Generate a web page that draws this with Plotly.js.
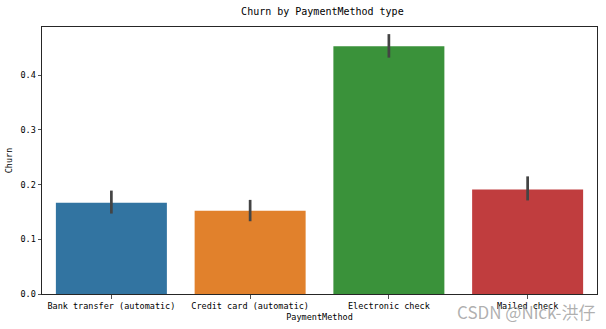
<!DOCTYPE html>
<html><head><meta charset="utf-8">
<script src="https://cdn.plot.ly/plotly-3.0.1.min.js"></script>
<style>html,body{margin:0;padding:0;background:#fff;}</style>
</head><body><div id="chart" style="width:606px;height:329px;"></div>
<script>
const categories = ["Bank transfer (automatic)", "Credit card (automatic)", "Electronic check", "Mailed check"];
const churnRate = [0.167, 0.152, 0.453, 0.191];
const ciUpper = [0.189, 0.172, 0.475, 0.215];
const ciLower = [0.147, 0.133, 0.432, 0.171];
const colors = ["#3274a1", "#e1812c", "#3a923a", "#c03d3e"];
const yTicks = [0, 0.1, 0.2, 0.3, 0.4];
const yTickText = ["0.0", "0.1", "0.2", "0.3", "0.4"];

const font = "'DejaVu Sans Mono', 'Liberation Mono', monospace";
const trace = {
  type: "bar",
  x: categories,
  y: churnRate,
  width: 0.8,
  marker: {color: colors, line: {width: 0}},
  error_y: {
    type: "data",
    symmetric: false,
    array: ciUpper.map((u, i) => u - churnRate[i]),
    arrayminus: churnRate.map((v, i) => v - ciLower[i]),
    color: "#444444",
    thickness: 2.7,
    width: 0
  },
  hoverinfo: "none"
};
const layout = {
  width: 606, height: 329,
  margin: {l: 42, r: 9, t: 27, b: 35},
  paper_bgcolor: "#fff", plot_bgcolor: "#fff",
  showlegend: false,
  bargap: 0.2,
  font: {family: font, size: 8.5, color: "#000"},
  title: {text: "Churn by PaymentMethod type", font: {family: font, size: 10, color: "#000"}, x: 0.532, xanchor: "center", y: 0.965, yanchor: "middle"},
  xaxis: {
    range: [-0.5, 3.5],
    showgrid: false, zeroline: false,
    showline: true, linecolor: "#262626", linewidth: 1, mirror: true,
    ticks: "outside", ticklen: 3.5, tickcolor: "#262626", tickwidth: 0.8,
    tickfont: {family: font, size: 8.5, color: "#000"},
    title: {text: "PaymentMethod", font: {family: font, size: 8.5, color: "#000"}, standoff: 4}
  },
  yaxis: {
    range: [0, 0.488],
    showgrid: false, zeroline: false,
    showline: true, linecolor: "#262626", linewidth: 1, mirror: true,
    ticks: "outside", ticklen: 3.5, tickcolor: "#262626", tickwidth: 0.8,
    tickvals: yTicks, ticktext: yTickText,
    tickfont: {family: font, size: 8.5, color: "#000"},
    title: {text: "Churn", font: {family: font, size: 8.5, color: "#000"}, standoff: 6}
  },
  annotations: [{
    text: "CSDN @Nick-洪仔", xref: "paper", yref: "paper",
    x: 1.0, y: -0.067, xanchor: "right", yanchor: "middle",
    showarrow: false,
    font: {family: "'Noto Sans CJK SC', 'Noto Sans', sans-serif", size: 17, color: "rgba(150,150,150,0.75)"}
  }]
};
Plotly.newPlot("chart", [trace], layout, {staticPlot: true, displayModeBar: false});
</script></body></html>
